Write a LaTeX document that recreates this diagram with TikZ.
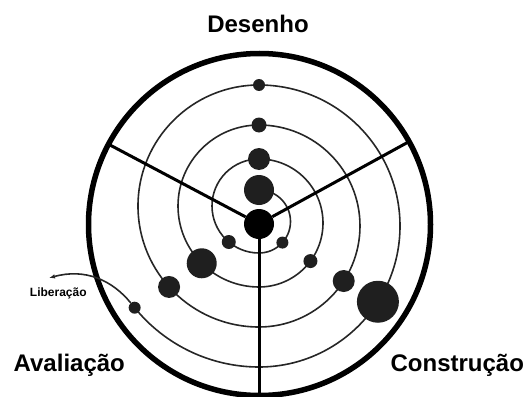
\documentclass[tikz,border=0pt]{standalone}
\usepackage{fontspec}
\setmainfont{Liberation Sans}
\usetikzlibrary{arrows.meta}

\begin{document}
\begin{tikzpicture}[x=1pt,y=1pt,>=Latex,
  ball/.style={circle,fill=black!88,inner sep=0pt,minimum size=#1},
  spoke/.style={line width=3pt},
  trail/.style={line width=1.6pt,draw=black!85},
  phase/.style={font=\bfseries\fontsize{24}{28}\selectfont,anchor=base,inner sep=0pt}]
\useasboundingbox (0,0) rectangle (527,-396);
% outer ring
\draw[line width=5.5pt] (259.5,-224.5) circle[radius=171];
% spiral, half turns alternating right/left
\draw[trail] (259,-190) arc[start angle=90,end angle=-90,radius=31.5]
  arc[start angle=270,end angle=90,radius=47]
  arc[start angle=90,end angle=-90,radius=64]
  arc[start angle=270,end angle=90,radius=81]
  arc[start angle=90,end angle=-90,radius=101]
  arc[start angle=270,end angle=90,radius=121]
  arc[start angle=90,end angle=-90,radius=141]
  arc[start angle=270,end angle=219,radius=160];
% points on the spiral
\node[ball=30pt,fill=black] (hub) at (259,-224) {};
\node[ball=30pt] (d2) at (259,-190) {};
\node[ball=22pt] (d3) at (259,-159) {};
\node[ball=15pt] (d4) at (259,-125) {};
\node[ball=12pt] (d5) at (259,-85) {};
\node[ball=12pt] (d6) at ([shift={(-42:31.5)}]259,-221.5) {};
\node[ball=14pt] (d7) at ([shift={(230:47)}]259,-206) {};
\node[ball=14pt] (d8) at ([shift={(-36.5:64)}]259,-223) {};
\node[ball=30pt] (d9) at ([shift={(225:81)}]259,-206) {};
\node[ball=22pt] (d10) at ([shift={(-33:101)}]259,-226) {};
\node[ball=22pt] (d11) at ([shift={(222:121)}]259,-206) {};
\node[ball=42pt] (d12) at ([shift={(-32.5:141)}]259,-226) {};
\node[ball=12pt] (d13) at ([shift={(219:160)}]259,-207) {};
% sector borders
\coordinate (rimL) at ([shift={(152:171)}]259.5,-224.5);
\coordinate (rimR) at ([shift={(29:171)}]259.5,-224.5);
\coordinate (rimB) at (259,-396);
\draw[spoke] (hub) -- (rimL);
\draw[spoke] (hub) -- (rimR);
\draw[spoke] (hub) -- (rimB);
% release
\coordinate (out) at (49,-278);
\draw[trail,-{Latex[length=6pt,width=4.5pt]}] (d13) .. controls (112,-280) and (85,-268) .. (out);
\node[font=\bfseries\fontsize{12}{14}\selectfont,anchor=base,inner sep=0pt] (release) at (58.3,-296) {Liberação};
% phases
\node[phase] (design) at (258,-32.7) {Desenho};
\node[phase] (evaluation) at (69.3,-371.7) {Avaliação};
\node[phase] (build) at (457.3,-371.7) {Construção};
\end{tikzpicture}
\end{document}
